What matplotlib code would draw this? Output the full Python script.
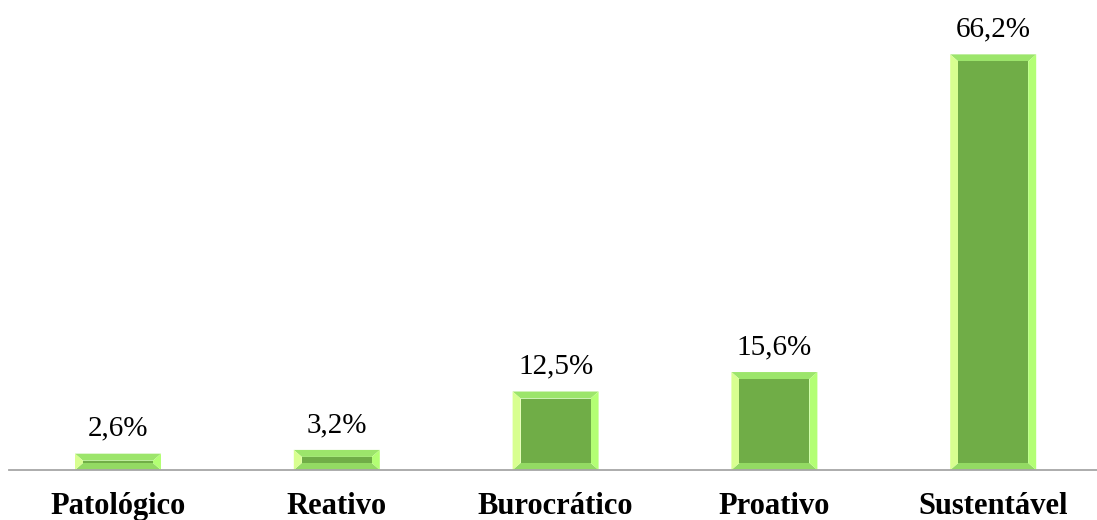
import matplotlib.pyplot as plt
from matplotlib.patches import Polygon

plt.rcParams['font.family'] = ['Liberation Serif', 'DejaVu Serif']

categorias = ['Patológico', 'Reativo', 'Burocrático', 'Proativo', 'Sustentável']
percentuais = [2.6, 3.2, 12.5, 15.6, 66.2]
rotulos = ['2,6%', '3,2%', '12,5%', '15,6%', '66,2%']

COR_CENTRO = '#70AD47'
COR_TOPO = '#9CE56B'
COR_BASE = '#93DA63'
COR_ESQ = '#D8FF90'
COR_DIR = '#B3FF74'

LARG_PX = 1094
ALT_PX = 469

fig = plt.figure(figsize=(10.97, 5.2), dpi=100)
ax = fig.add_axes([8.6 / 1097, 50 / 520, LARG_PX / 1097, ALT_PX / 520])
ax.set_xlim(-0.5, 4.5)
ax.set_ylim(0, 74.7)

largura = 0.393
# tamanho do chanfro em pixels convertido para unidades dos eixos
px_x = 5 / LARG_PX
px_y = 74.7 / ALT_PX
bx = 8 * px_x
by = 7 * px_y


def barra_chanfrada(ax, xc, h):
    x0, x1 = xc - largura / 2, xc + largura / 2
    y0, y1 = 0, h
    iy = min(by, h / 2 - 0.15 * px_y)
    ix = bx
    ix0, ix1 = x0 + ix, x1 - ix
    iy0, iy1 = y0 + iy, y1 - iy
    faces = [
        ([(x0, y1), (x1, y1), (ix1, iy1), (ix0, iy1)], COR_TOPO),
        ([(x0, y0), (x1, y0), (ix1, iy0), (ix0, iy0)], COR_BASE),
        ([(x0, y0), (x0, y1), (ix0, iy1), (ix0, iy0)], COR_ESQ),
        ([(x1, y0), (x1, y1), (ix1, iy1), (ix1, iy0)], COR_DIR),
        ([(ix0, iy0), (ix1, iy0), (ix1, iy1), (ix0, iy1)], COR_CENTRO),
    ]
    for pts, cor in faces:
        ax.add_patch(Polygon(pts, closed=True, facecolor=cor, edgecolor='none'))


for i, (v, r) in enumerate(zip(percentuais, rotulos)):
    barra_chanfrada(ax, i, v)
    ax.text(i, v + 1.9, r, ha='center', va='bottom', fontsize=21, color='black')

for s in ['top', 'right', 'left']:
    ax.spines[s].set_visible(False)
ax.spines['bottom'].set_color('#A6A6A6')
ax.spines['bottom'].set_linewidth(1.3)
ax.set_yticks([])
ax.set_xticks(range(len(categorias)))
ax.set_xticklabels(categorias, fontsize=22, fontweight='bold')
ax.tick_params(axis='x', length=0, pad=16)

fig.savefig('out.png', dpi=100)
